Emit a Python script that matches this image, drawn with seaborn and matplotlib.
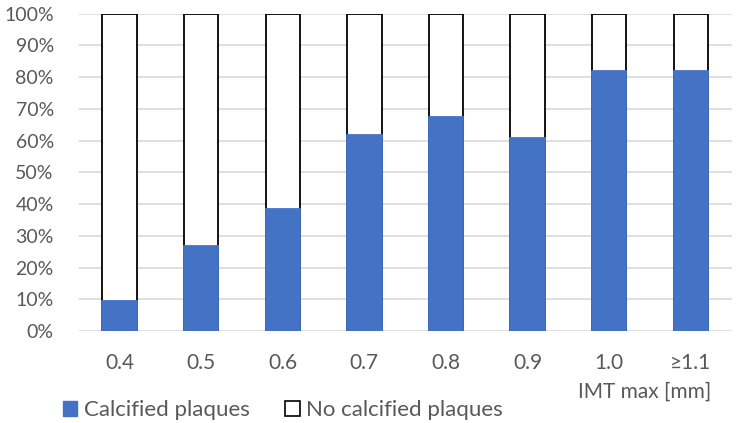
import numpy as np
import pandas as pd
import seaborn as sns
from matplotlib import pyplot as plt
from matplotlib.patches import Patch
from matplotlib.ticker import FuncFormatter

# data (percent of patients)
imt_labels = ['0.4', '0.5', '0.6', '0.7', '0.8', '0.9', '1.0', '\u22651.1']
calcified = [9.4, 26.7, 38.4, 61.8, 67.4, 60.8, 81.9, 81.9]
no_calcified = [100 - v for v in calcified]
total = [c + n for c, n in zip(calcified, no_calcified)]

df = pd.DataFrame({'imt': imt_labels, 'calcified': calcified, 'total': total})

blue = '#4472C4'
grey = '#595959'

sns.set_style('white')
plt.rcParams['font.family'] = ['Lato', 'DejaVu Sans']
fs_y = 14
fs_x = 15
fs_leg = 16

fig = plt.figure(figsize=(7.36, 4.23), dpi=100)
ax = fig.add_axes([0.107, 0.2175, 0.887, 0.75])

# white "no calcified" bars stacked on top -> draw the full height first, then blue part over it
sns.barplot(data=df, x='imt', y='total', color='white', edgecolor='black',
            linewidth=1.3, width=0.42, saturation=1, ax=ax, zorder=2)
sns.barplot(data=df, x='imt', y='calcified', color=blue, edgecolor=blue,
            linewidth=1.3, width=0.42, saturation=1, ax=ax, zorder=3)

ax.set_ylim(0, 100)
ax.set_xlim(-0.5, len(imt_labels) - 0.5)
ax.set_yticks(np.arange(0, 101, 10))
ax.yaxis.set_major_formatter(FuncFormatter(lambda v, p: '%d%%' % v))
ax.grid(axis='y', color='#d9d9d9', linewidth=1.2, zorder=0)
ax.set_axisbelow(True)
for s in ax.spines.values():
    s.set_visible(False)
ax.tick_params(axis='both', length=0, labelcolor=grey)
ax.tick_params(axis='y', pad=18, labelsize=fs_y)
ax.tick_params(axis='x', pad=16, labelsize=fs_x)
ax.set_xlabel('')
ax.set_ylabel('')

fig.text(0.967, 0.075, 'IMT max [mm]', ha='right', va='center',
         fontsize=fs_x, color=grey)

handles = [Patch(facecolor=blue, edgecolor=blue, label='Calcified plaques'),
           Patch(facecolor='white', edgecolor='black', linewidth=1.2,
                 label='No calcified plaques')]
fig.legend(handles=handles, loc='center left', bbox_to_anchor=(0.085, 0.03),
           ncol=2, frameon=False, fontsize=fs_leg, labelcolor=grey,
           handlelength=0.65, handleheight=0.65, handletextpad=0.3,
           columnspacing=1.6, borderpad=0, borderaxespad=0)

fig.savefig('out.png', dpi=100)
